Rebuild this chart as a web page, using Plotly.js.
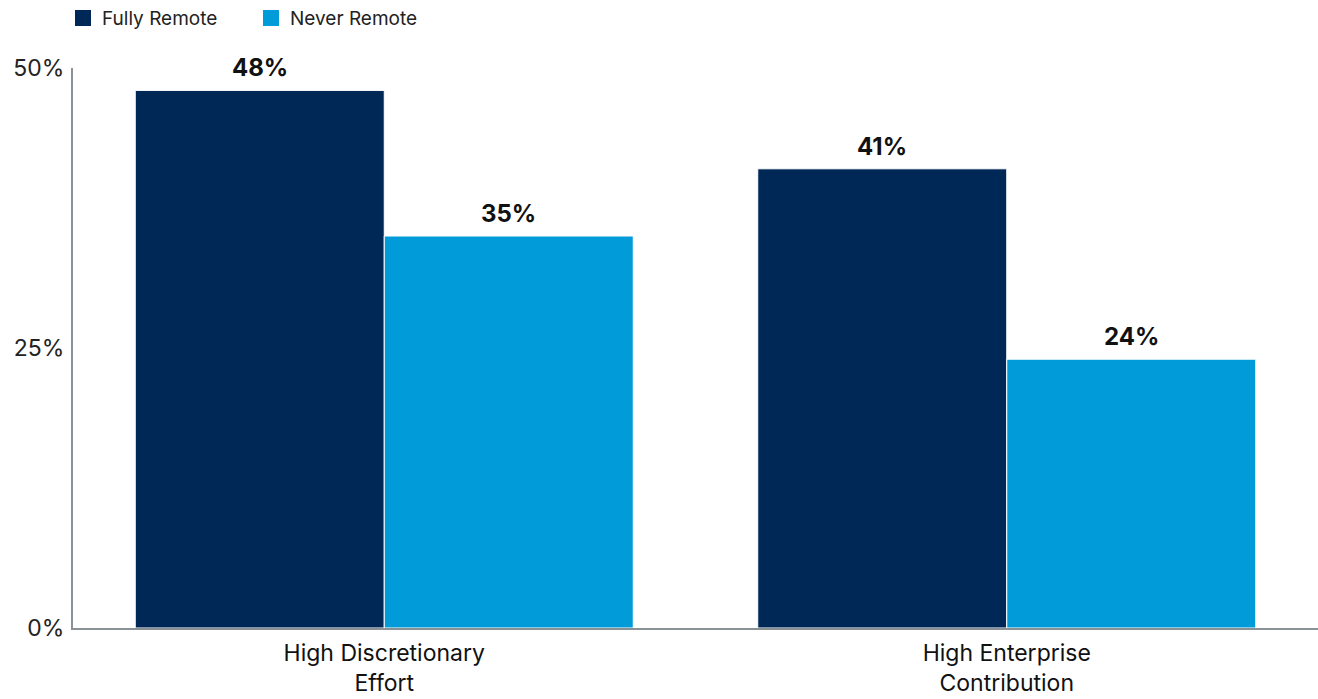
<!DOCTYPE html>
<html>
<head>
<meta charset="utf-8">
<script src="https://cdn.plot.ly/plotly-3.0.1.min.js"></script>
<style>html,body{margin:0;padding:0;background:#fff;}#chart{width:1318px;height:699px;}</style>
</head>
<body>
<div id="chart"></div>
<script>
const categories = ["High Discretionary<br>Effort", "High Enterprise<br>Contribution"];
const fullyRemote = [48, 41];
const neverRemote = [35, 24];
const seriesNames = ["Fully Remote", "Never Remote"];
const tickVals = [0, 25, 50];
const tickText = ["0%", "25%", "50%"];

const colors = ["#002856", "#009BD8"];
const font = "Inter, 'Noto Sans', sans-serif";

const traces = [fullyRemote, neverRemote].map((vals, i) => ({
  type: "bar",
  name: seriesNames[i],
  x: categories,
  y: vals,
  marker: {color: colors[i], line: {color: "#ffffff", width: 1}},
  hoverinfo: "skip"
}));

const annotations = [];
[fullyRemote, neverRemote].forEach((vals, i) => {
  vals.forEach((v, j) => {
    annotations.push({
      x: categories[j], y: v, xref: "x", yref: "y",
      text: "<b>" + v + "%</b>", showarrow: false,
      yanchor: "bottom", yshift: 6,
      xshift: (i === 0 ? -1 : 1) * 124.5,
      font: {family: font, size: 24, color: "#111"}
    });
  });
});

// custom legend (squares + labels) at the top left
const shapes = [];
const legendX = [75, 263];
seriesNames.forEach((name, i) => {
  shapes.push({type: "rect", xref: "paper", yref: "paper",
    x0: (legendX[i] - 73) / 1245, x1: (legendX[i] + 16 - 73) / 1245,
    y0: 1 + (68 - 26) / 560, y1: 1 + (68 - 10) / 560,
    fillcolor: colors[i], line: {width: 0}});
  annotations.push({xref: "paper", yref: "paper",
    x: (legendX[i] + 25 - 73) / 1245, y: 1 + (68 - 18) / 560,
    xanchor: "left", yanchor: "middle", showarrow: false,
    text: name, font: {family: font, size: 19, color: "#222"}});
});

const layout = {
  width: 1318, height: 699,
  margin: {l: 73, r: 0, t: 68, b: 71},
  paper_bgcolor: "#fff", plot_bgcolor: "#fff",
  barmode: "group", bargap: 0.2, bargroupgap: 0,
  showlegend: false,
  xaxis: {showline: true, linecolor: "#8a9295", linewidth: 2, ticks: "",
          tickfont: {family: font, size: 23, color: "#111"}, showgrid: false, zeroline: false,
          ticklabelstandoff: 3, automargin: false},
  yaxis: {range: [0, 50], tickvals: tickVals, ticktext: tickText, showline: true,
          linecolor: "#8a9295", linewidth: 2, showgrid: false, zeroline: false, ticks: "",
          tickfont: {family: font, size: 23, color: "#222"}, ticklabelstandoff: 2},
  shapes: shapes,
  annotations: annotations
};

Plotly.newPlot("chart", traces, layout, {displayModeBar: false, staticPlot: true});
</script>
</body>
</html>
